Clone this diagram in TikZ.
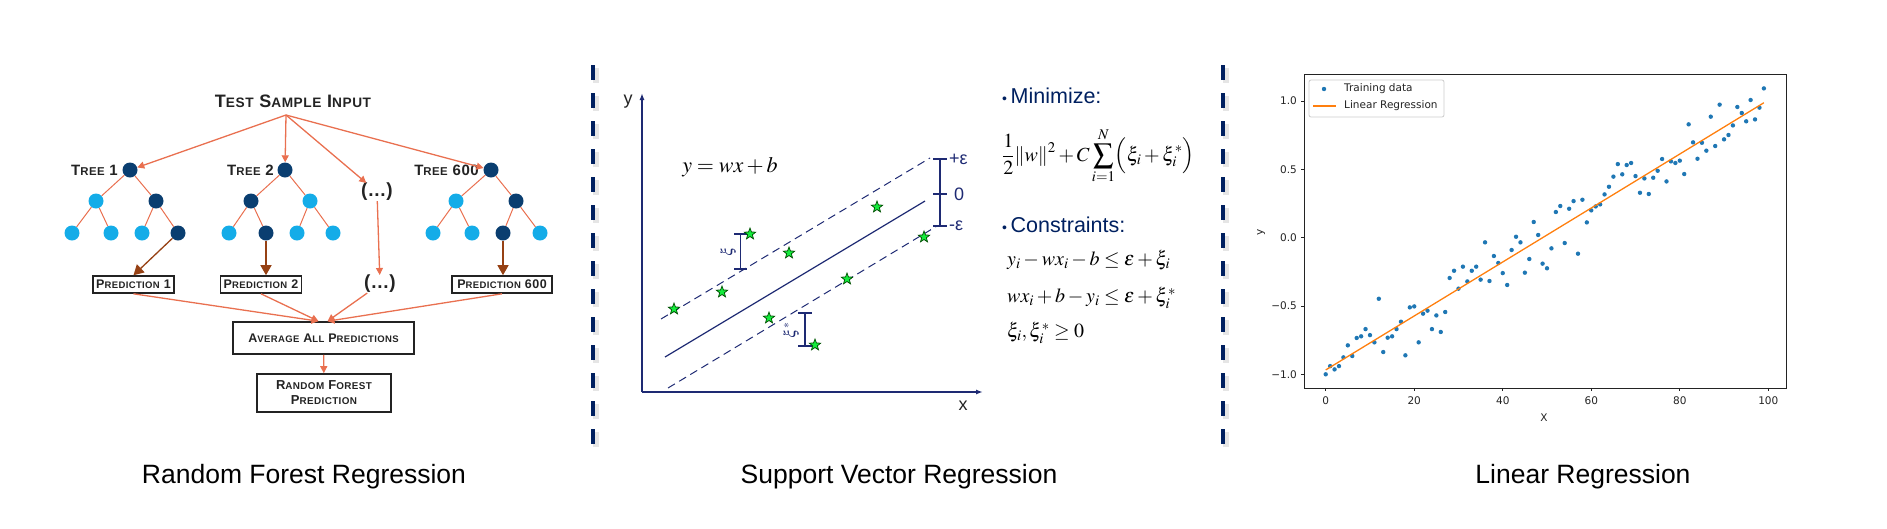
\documentclass[tikz,border=0pt]{standalone}
\usepackage{mathptmx}
\usepackage[no-math]{fontspec}
\setmainfont{Liberation Sans}
\newfontfamily\plotfont{DejaVu Sans}
\newfontfamily\scfont[LetterSpace=4]{Liberation Sans}
\usetikzlibrary{arrows.meta,shapes.geometric}
\definecolor{coral}{RGB}{233,112,80}
\definecolor{rust}{RGB}{150,65,20}
\definecolor{leafblue}{RGB}{20,172,232}
\definecolor{nodenavy}{RGB}{10,62,112}
\definecolor{svrnavy}{RGB}{30,42,115}
\definecolor{sepnavy}{RGB}{0,32,96}
\definecolor{starfill}{RGB}{20,235,60}
\definecolor{mplblue}{RGB}{31,119,180}
\definecolor{mplorange}{RGB}{255,127,14}
\definecolor{inkgray}{RGB}{35,35,35}

\makeatletter
\newcommand{\lowsc}[1]{{\fontsize{\the\dimexpr0.76\dimexpr\f@size pt\relax\relax}{\baselineskip}\selectfont #1}}
\makeatother

\begin{document}
\begin{tikzpicture}[x=1pt,y=-1pt,
    leaf/.style={circle,fill=leafblue,minimum size=15pt,inner sep=0pt},
    split/.style={circle,fill=nodenavy,minimum size=15pt,inner sep=0pt},
    edge/.style={draw=coral,line width=1pt},
    arrow/.style={-{Triangle[length=7pt,width=7pt]},coral,line width=1.3pt},
    outarrow/.style={-{Triangle[length=10pt,width=11pt]},rust,line width=1.3pt},
    treelabel/.style={anchor=east,inner sep=0pt,text=inkgray,font=\scfont\bfseries\fontsize{15}{17}\selectfont},
    predbox/.style={draw=inkgray,line width=1.6pt,minimum width=81pt,minimum height=17pt,inner sep=1pt,text=inkgray,font=\scfont\bfseries\fontsize{12.5}{14}\selectfont},
    sep/.style={sepnavy,line width=4pt,dash pattern=on 15pt off 13pt},
    axis/.style={svrnavy,line width=1.6pt,-{Latex[length=7pt,width=5pt]}},
    margin/.style={svrnavy,line width=1pt,dash pattern=on 8pt off 5pt},
    bracket/.style={svrnavy,line width=1.8pt},
    datastar/.style={star,star points=5,star point ratio=2.4,minimum size=12pt,inner sep=0pt,fill=starfill,draw=black!70!green,line width=0.7pt},
    bullet/.style={anchor=west,inner sep=0pt,text=sepnavy,font=\fontsize{21.5}{24}\selectfont},
    formula/.style={anchor=west,inner sep=0pt,font=\fontsize{20}{24}\selectfont},
    caption/.style={anchor=base,inner sep=0pt,font=\fontsize{26.5}{30}\selectfont}
  ]
  \useasboundingbox (0,0) rectangle (1887,528);

  % random forest
  \node[inner sep=0pt,text=inkgray,font=\scfont\bfseries\fontsize{18}{20}\selectfont] (input) at (293,101) {T\lowsc{EST} S\lowsc{AMPLE} I\lowsc{NPUT}};
  \coordinate (fan) at (286,115);

  \node[split] (t1r) at (130,170) {};
  \node[leaf] (t1a) at (96,201) {};
  \node[split] (t1b) at (156,201) {};
  \node[leaf] (t1aa) at (72,233) {};
  \node[leaf] (t1ab) at (111,233) {};
  \node[leaf] (t1ba) at (142,233) {};
  \node[split] (t1bb) at (178,233) {};
  \node[treelabel] (t1lab) at (118,170) {T\lowsc{REE} 1};

  \node[split] (t2r) at (285,170) {};
  \node[split] (t2a) at (251,201) {};
  \node[leaf] (t2b) at (310,201) {};
  \node[leaf] (t2aa) at (229,233) {};
  \node[split] (t2ab) at (266,233) {};
  \node[leaf] (t2ba) at (297,233) {};
  \node[leaf] (t2bb) at (333,233) {};
  \node[treelabel] (t2lab) at (274,170) {T\lowsc{REE} 2};

  \node[split] (t3r) at (491,170) {};
  \node[leaf] (t3a) at (456,201) {};
  \node[split] (t3b) at (516,201) {};
  \node[leaf] (t3aa) at (433,233) {};
  \node[leaf] (t3ab) at (472,233) {};
  \node[split] (t3ba) at (503,233) {};
  \node[leaf] (t3bb) at (540,233) {};
  \node[treelabel] (t3lab) at (479,170) {T\lowsc{REE} 600};

  \node[inner sep=0pt,text=inkgray,font=\scfont\bfseries\fontsize{19}{21}\selectfont] (dots1) at (377,192) {(...)};
  \node[inner sep=0pt,text=inkgray,font=\scfont\bfseries\fontsize{19}{21}\selectfont] (dots2) at (380,284) {(...)};

  \foreach \p/\c in {t1r/t1a,t1r/t1b,t1a/t1aa,t1a/t1ab,t1b/t1ba,t1b/t1bb,
                     t2r/t2a,t2r/t2b,t2a/t2aa,t2a/t2ab,t2b/t2ba,t2b/t2bb,
                     t3r/t3a,t3r/t3b,t3a/t3aa,t3a/t3ab,t3b/t3ba,t3b/t3bb}
    \draw[edge] (\p) -- (\c);

  \draw[arrow] (fan) -- (t1r);
  \draw[arrow] (fan) -- (t2r);
  \draw[arrow] (fan) -- (dots1);
  \draw[arrow] (fan) -- (t3r);

  \node[predbox] (pred1) at (133.5,284.5) {P\lowsc{REDICTION} 1};
  \node[predbox] (pred2) at (261,284.5) {P\lowsc{REDICTION} 2};
  \node[predbox,minimum width=100pt] (pred3) at (502,284.5) {P\lowsc{REDICTION} 600};
  \node[predbox,minimum width=181pt,minimum height=32pt] (avg) at (323.5,338) {A\lowsc{VERAGE} A\lowsc{LL} P\lowsc{REDICTIONS}};
  \node[predbox,minimum width=134pt,minimum height=38pt,align=center,font=\scfont\bfseries\fontsize{13}{15}\selectfont] (rfp) at (324,393) {R\lowsc{ANDOM} F\lowsc{OREST}\\P\lowsc{REDICTION}};

  \draw[outarrow] (t1bb) -- (pred1.north);
  \draw[outarrow] (t2ab) -- (pred2.north -| t2ab);
  \draw[outarrow] (t3ba) -- (pred3.north -| t3ba);
  \draw[arrow] (dots1) -- (dots2);
  \draw[arrow] (pred1.south) -- ([xshift=-5pt]avg.north);
  \draw[arrow] (pred2.south) -- ([xshift=-5pt]avg.north);
  \draw[arrow] (dots2) -- ([xshift=4pt]avg.north);
  \draw[arrow] (pred3.south) -- ([xshift=4pt]avg.north);
  \draw[arrow] (avg) -- (rfp);

  % separators
  \draw[sep,black!10,line width=6pt] (596,68) -- (596,448);
  \draw[sep] (593,65) -- (593,445);
  \draw[sep,black!10,line width=6pt] (1226,68) -- (1226,448);
  \draw[sep] (1223,65) -- (1223,445);

  % support vector regression
  \draw[axis] (642,392) -- (642,93);
  \draw[axis] (642,392) -- (983,392);
  \node[text=inkgray,font=\fontsize{18}{20}\selectfont] (ylab) at (628,102) {y};
  \node[text=inkgray,font=\fontsize{18}{20}\selectfont] (xlab) at (963,406) {x};
  \node[font=\fontsize{22}{24}\selectfont] (model) at (730,167) {$y=wx+b$};

  \draw[svrnavy,line width=1.2pt] (665,357) -- (925,201);
  \draw[margin] (661,319) -- (930,158);
  \draw[margin] (668,388) -- (937,226);

  \draw[bracket] (933,159) -- (947,159) (933,194) -- (947,194) (933,226) -- (947,226) (940,159) -- (940,226);
  \node[anchor=west,inner sep=0pt,text=svrnavy,font=\fontsize{18}{20}\selectfont] (eplus) at (949,159) {+ε};
  \node[anchor=west,inner sep=0pt,text=svrnavy,font=\fontsize{18}{20}\selectfont] (ezero) at (954,194) {0};
  \node[anchor=west,inner sep=0pt,text=svrnavy,font=\fontsize{18}{20}\selectfont] (eminus) at (949,226) {-ε};

  \draw[bracket] (734,234) -- (747,234) (734,269) -- (747,269) (740.5,234) -- (740.5,269);
  \node[rotate=90,inner sep=0pt,text=svrnavy,font=\fontsize{16}{18}\selectfont] (xi) at (728,252) {$\xi$};
  \draw[bracket] (798,313) -- (812,313) (798,346) -- (812,346) (805,313) -- (805,346);
  \node[rotate=90,inner sep=0pt,text=svrnavy,font=\fontsize{16}{18}\selectfont] (xistar) at (791,330) {$\xi^*$};

  \foreach \sx/\sy [count=\k] in {674/309,722/292,750/234,789/253,877/207,769/318,847/279,924/237,815/345}
    \node[datastar] (star\k) at (\sx,\sy) {};

  \node[bullet] (minlab) at (1002,96) {{\fontsize{14}{16}\selectfont\textbullet}\,Minimize:};
  \node[formula] (objective) at (1002,156) {$\displaystyle \frac{1}{2}\|w\|^2+C\sum_{i=1}^{N}\Bigl(\xi_i+\xi_i^*\Bigr)$};
  \node[bullet] (conlab) at (1002,225) {{\fontsize{14}{16}\selectfont\textbullet}\,Constraints:};
  \node[formula] (con1) at (1007,260) {$y_i-wx_i-b\le\varepsilon+\xi_i$};
  \node[formula] (con2) at (1007,298) {$wx_i+b-y_i\le\varepsilon+\xi_i^*$};
  \node[formula] (con3) at (1007,333) {$\xi_i,\xi_i^*\ge 0$};

  % linear regression plot
  \begin{scope}[shift={(1325.7pt,-237.7pt)},x=4.426pt,y=136.6pt,font=\plotfont\fontsize{10.5}{12}\selectfont]
    \foreach \yv [count=\k from 0] in {-1.0,-0.94,-0.964,-0.94,-0.876,-0.788,-0.866,-0.734,-0.722,-0.669,
        -0.713,-0.766,-0.447,-0.837,-0.732,-0.722,-0.669,-0.615,-0.861,-0.51,
        -0.503,-0.766,-0.556,-0.534,-0.669,-0.569,-0.69,-0.544,-0.295,-0.242,
        -0.373,-0.212,-0.32,-0.242,-0.212,-0.307,-0.034,-0.317,-0.134,-0.185,
        -0.259,-0.346,-0.09,0.007,-0.034,-0.256,-0.156,0.115,0.02,-0.19,
        -0.224,-0.078,0.188,0.232,-0.039,0.212,0.268,-0.117,0.278,0.112,
        0.2,0.229,0.244,0.317,0.373,0.447,0.539,0.464,0.532,0.547,
        0.451,0.329,0.434,0.32,0.439,0.49,0.576,0.412,0.559,0.547,
        0.564,0.466,0.83,0.698,0.578,0.695,0.637,0.886,0.671,0.974,
        0.72,0.752,0.822,0.957,0.913,0.852,1.008,0.866,0.952,1.093}
      \fill[mplblue] (\k,\yv) circle[radius=2.2pt];
    \draw[mplorange,line width=1.3pt] (0,-0.968) -- (99,0.988);
    \draw[inkgray,line width=0.9pt] (-4.9,-1.1) rectangle (104,1.198);
    \foreach \t [count=\k] in {0,20,...,100} {
      \draw[inkgray,line width=0.9pt] (\t,-1.1) -- ++(0,-3.5pt);
      \node[anchor=north,inner sep=0pt,text=inkgray] (xtick\k) at ([yshift=-9pt]\t,-1.1) {\t};
    }
    \foreach \v/\l [count=\k] in {-1/−1.0,-0.5/−0.5,0/0.0,0.5/0.5,1/1.0} {
      \draw[inkgray,line width=0.9pt] (-4.9,\v) -- ++(-3.5pt,0);
      \node[anchor=east,inner sep=0pt,text=inkgray] (ytick\k) at ([xshift=-7pt]-4.9,\v) {\l};
    }
  \end{scope}
  \node[rotate=90,text=inkgray,font=\plotfont\fontsize{10.5}{12}\selectfont] (plotylab) at (1261,232) {y};
  \node[text=inkgray,font=\plotfont\fontsize{10.5}{12}\selectfont] (plotxlab) at (1544,418) {X};
  \draw[black!20,fill=white,rounded corners=2pt,line width=0.8pt] (1309,80) rectangle (1444,117);
  \fill[mplblue] (1324,89) circle[radius=2.2pt];
  \draw[mplorange,line width=1.3pt] (1313,106) -- (1336,106);
  \node[anchor=west,inner sep=0pt,text=inkgray,font=\plotfont\fontsize{10.5}{12}\selectfont] (legtrain) at (1344,89) {Training data};
  \node[anchor=west,inner sep=0pt,text=inkgray,font=\plotfont\fontsize{10.5}{12}\selectfont] (legline) at (1344,106) {Linear Regression};

  % captions
  \node[caption] (rfcap) at (304,483) {Random Forest Regression};
  \node[caption] (svrcap) at (899,483) {Support Vector Regression};
  \node[caption] (lrcap) at (1583,483) {Linear Regression};
\end{tikzpicture}
\end{document}
